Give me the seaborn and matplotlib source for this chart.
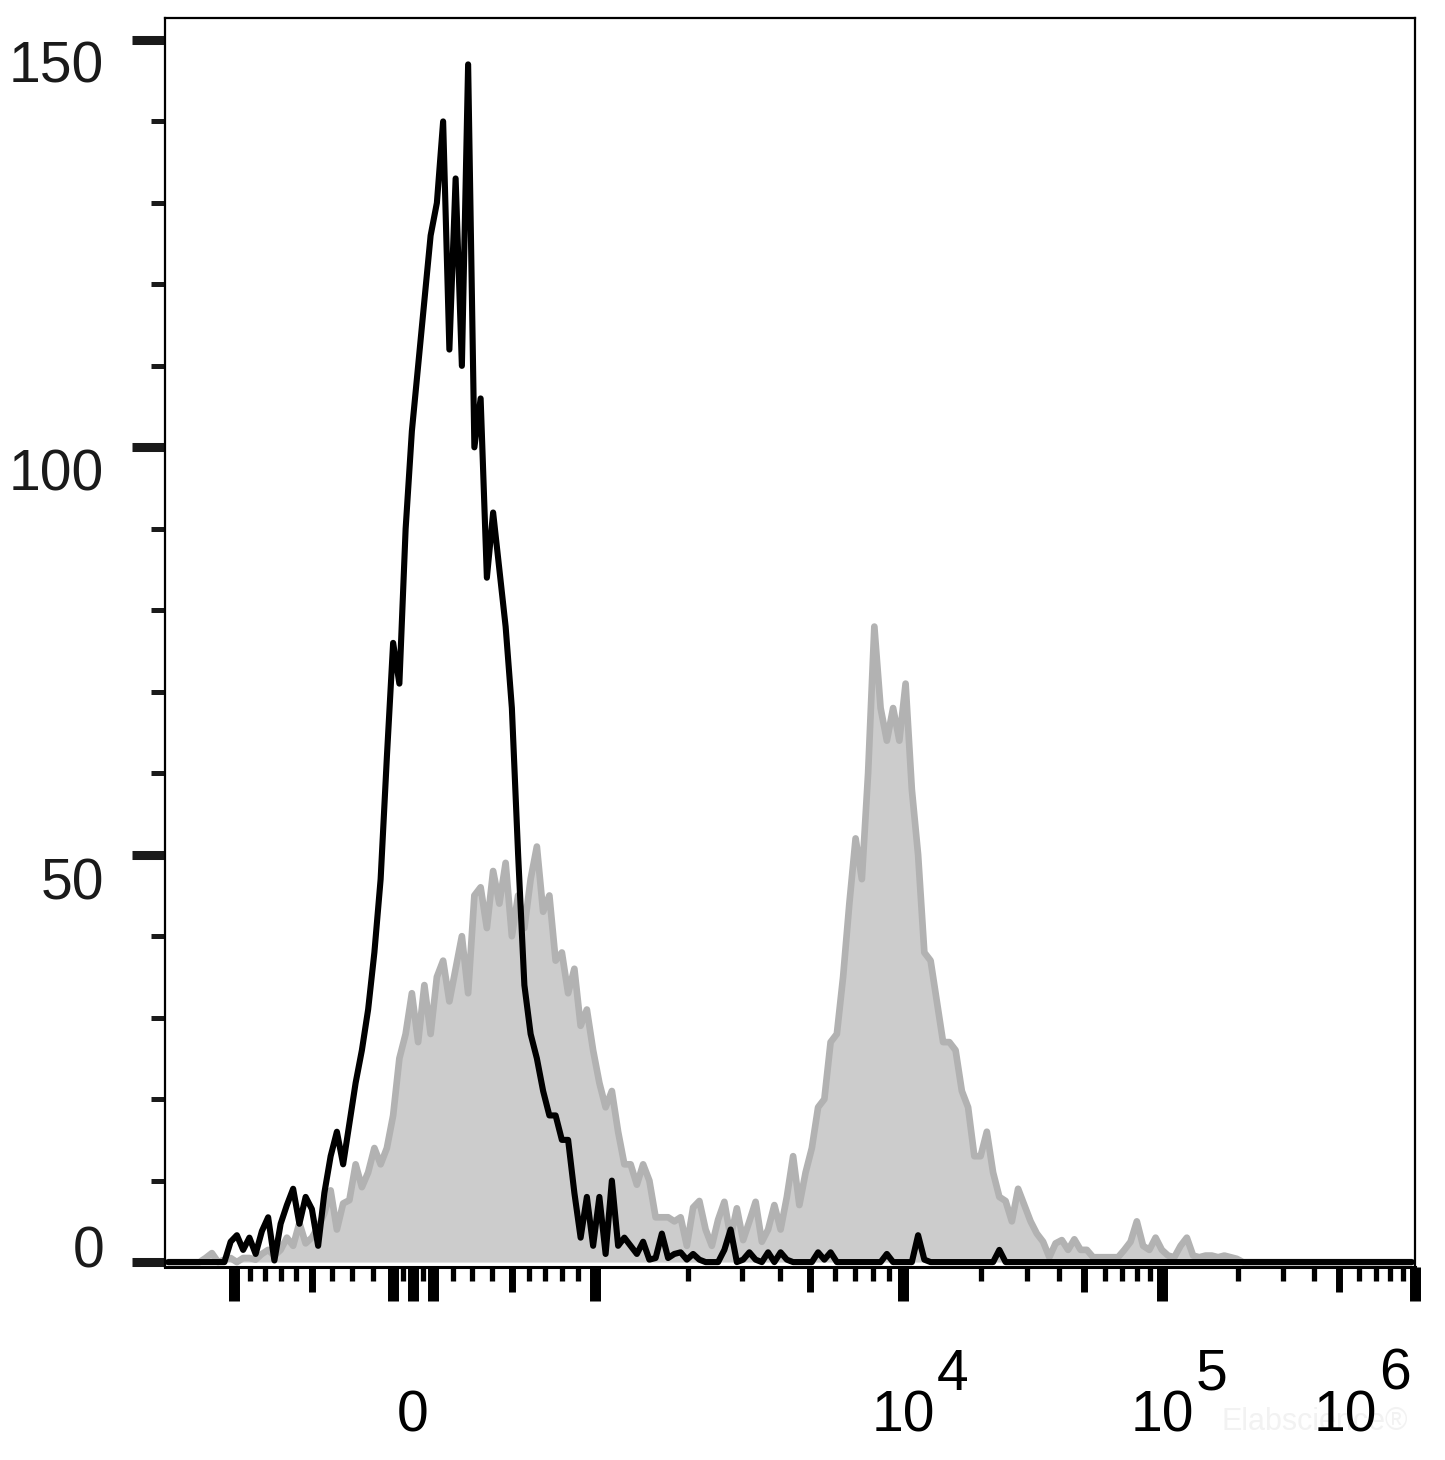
# Flow cytometry histogram overlay (biexponential x axis)

import numpy as np
import pandas as pd
import matplotlib
matplotlib.use("Agg")
import matplotlib.pyplot as plt
import matplotlib.transforms as mtransforms
from matplotlib.ticker import FixedLocator, NullLocator
import seaborn as sns

# Histogram counts: 200 bins spread evenly over the display channel range (0-1000)
gray_counts = [
    0, 0, 0, 0, 0, 0, 0.5, 1.1, 0, 0.3,
    0.5, 0, 0.5, 0.5, 0.3, 1.0, 1.5, 0.8, 1.5, 3.0,
    2.0, 4.8, 2.3, 3.0, 4.3, 6.0, 8.8, 4.0, 7.2, 7.6,
    12, 9.2, 11, 14, 12, 14, 18, 25, 28, 33,
    27, 34, 28, 35, 37, 32, 36, 40, 33, 45,
    46, 41, 48, 44, 49, 40, 45, 41, 47, 51,
    43, 45, 37, 38, 33, 36, 29, 31, 26, 22,
    19, 21, 16, 12, 12, 9.5, 12, 10, 5.5, 5.5,
    5.5, 5, 5.5, 2, 6.7, 7.5, 4, 2, 5.2, 7.4,
    3, 6.6, 2.7, 5, 7.4, 2.5, 4, 7, 4, 8,
    13, 7, 11, 14, 19, 20, 27, 28, 35, 44,
    52, 47, 60, 78, 68, 64, 68, 64, 71, 58,
    50, 38, 37, 32, 27, 27, 26, 21, 19, 13,
    13, 16, 11, 8, 7.5, 5, 9, 7, 5, 3.5,
    2.5, 0.6, 2.3, 2.7, 1.5, 2.8, 1.5, 1.5, 0.6, 0.6,
    0.6, 0.6, 0.6, 1.5, 2.5, 5, 2, 1.5, 3, 1.5,
    0.8, 0.6, 2, 3, 0.8, 0.6, 0.8, 0.8, 0.6, 0.8,
    0.6, 0.4, 0, 0, 0, 0, 0, 0, 0, 0,
    0, 0, 0, 0, 0, 0, 0, 0, 0, 0,
    0, 0, 0, 0, 0, 0, 0, 0, 0, 0,
]
black_counts = [
    0, 0, 0, 0, 0, 0, 0, 0, 0, 0,
    2.5, 3.3, 1.5, 3.0, 1.0, 3.8, 5.5, 0.2, 4.7, 7.0,
    9.0, 4.7, 8.0, 6.5, 2.0, 8.5, 13, 16, 12, 17,
    22, 26, 31, 38, 47, 62, 76, 71, 90, 102,
    110, 118, 126, 130, 140, 112, 133, 110, 147, 100,
    106, 84, 92, 85, 78, 68, 50, 34, 28, 25,
    21, 18, 18, 15, 15, 8.5, 3, 8, 2, 8,
    1, 10, 2, 3, 2, 1, 2.5, 0.3, 0.5, 3.5,
    0.5, 1, 1.2, 0.3, 1, 0.3, 0, 0, 0, 1.5,
    4, 0, 0.3, 1.2, 0.3, 0, 1.2, 0, 1.2, 0.3,
    0, 0, 0, 0, 1.2, 0.3, 1.2, 0, 0, 0,
    0, 0, 0, 0, 0, 1.0, 0, 0, 0, 0,
    3.3, 0.3, 0, 0, 0, 0, 0, 0, 0, 0,
    0, 0, 0, 1.5, 0, 0, 0, 0, 0, 0,
    0, 0, 0, 0, 0, 0, 0, 0, 0, 0,
    0, 0, 0, 0, 0, 0, 0, 0, 0, 0,
    0, 0, 0, 0, 0, 0, 0, 0, 0, 0,
    0, 0, 0, 0, 0, 0, 0, 0, 0, 0,
    0, 0, 0, 0, 0, 0, 0, 0, 0, 0,
    0, 0, 0, 0, 0, 0, 0, 0, 0, 0,
]

# tick values
x_long_ticks = [-1000, -100, 0, 100, 1000, 1e4, 1e5, 1e6]
x_mid_ticks = [-500, 500, 5000, 5e4, 5e5]
x_short_ticks = [-900, -800, -700, -600, -400, -300, -200, -50, 50,
                 200, 300, 400, 600, 700, 800, 900,
                 2000, 3000, 4000, 6000, 7000, 8000, 9000,
                 2e4, 3e4, 4e4, 6e4, 7e4, 8e4, 9e4,
                 2e5, 3e5, 4e5, 6e5, 7e5, 8e5, 9e5]
x_label_vals = [0, 1e4, 1e5, 1e6]
x_label_base = ["0", "10", "10", "10"]
x_label_sup = ["", "4", "5", "6"]
y_major_ticks = [0, 50, 100, 150]
y_minor_ticks = [10, 20, 30, 40, 60, 70, 80, 90, 110, 120, 130, 140]
y_labels = ["0", "50", "100", "150"]

# biexponential-like display scale: linear up to 1000, log above
U_KNOTS = np.array([-4, -1, -0.5, 0, 0.5, 1, 2, 3, 4, 5])
CH_KNOTS = np.array([-684, 55.2, 117.6, 198.4, 277.6, 344, 590.4, 797.6, 1000, 1202])


def to_channel(x):
    x = np.asarray(x, dtype=float)
    ax_ = np.abs(x)
    u = np.where(ax_ <= 1000, x / 1000,
                 np.sign(x) * (1 + np.log10(np.maximum(ax_, 1000) / 1000)))
    return np.interp(u, U_KNOTS, CH_KNOTS)


def from_channel(c):
    u = np.interp(np.asarray(c, dtype=float), CH_KNOTS, U_KNOTS)
    au = np.abs(u)
    return np.where(au <= 1, u * 1000, np.sign(u) * 1000 * 10 ** (np.maximum(au, 1) - 1))


n_bins = len(gray_counts)
bin_values = from_channel((np.arange(n_bins) + 0.5) * 1000 / n_bins)
df = pd.DataFrame({"value": bin_values, "gray": gray_counts, "black": black_counts})

sns.set_style("white")
plt.rcParams['font.family'] = ['Liberation Sans', 'DejaVu Sans']

fig = plt.figure(figsize=(14.45, 14.60), dpi=100)
ax = fig.add_axes([0.1142, 0.1322, 0.865, 0.8555])
ax.set_xscale('function', functions=(to_channel, from_channel))

ax.fill_between(df['value'], df['gray'], 0, color='#cccccc', lw=0, zorder=1)
sns.lineplot(data=df, x='value', y='gray', color='#b2b2b2', lw=4.8, ax=ax, zorder=2)
sns.lineplot(data=df, x='value', y='black', color='black', lw=4.4, ax=ax, zorder=3)

ax.set_xlim(float(from_channel(0)), float(from_channel(1000)))
ax.set_ylim(-0.6, 152.7)
ax.set_xlabel('')
ax.set_ylabel('')

for side in ['left', 'top', 'right']:
    ax.spines[side].set_linewidth(1.6)
    ax.spines[side].set_color('black')
ax.spines['bottom'].set_linewidth(2.2)
ax.spines['bottom'].set_color('black')

ax.xaxis.set_major_locator(FixedLocator(x_long_ticks))
ax.xaxis.set_minor_locator(FixedLocator(x_short_ticks))
ax.yaxis.set_major_locator(FixedLocator(y_major_ticks))
ax.yaxis.set_minor_locator(FixedLocator(y_minor_ticks))
ax.tick_params(axis='x', which='major', direction='out', length=24.5, width=7.9,
               color='black', bottom=True, labelbottom=False)
ax.tick_params(axis='x', which='minor', direction='out', length=10, width=3.8,
               color='black', bottom=True)
ax.tick_params(axis='y', which='major', direction='out', length=24, width=6.5,
               color='#1a1a1a', left=True, labelleft=False)
ax.tick_params(axis='y', which='minor', direction='out', length=10, width=3.6,
               color='#1a1a1a', left=True)

# medium-length ticks on a twin axis with the same scale
ax2 = ax.twiny()
ax2.set_xscale('function', functions=(to_channel, from_channel))
ax2.set_xlim(ax.get_xlim())
ax2.xaxis.set_major_locator(FixedLocator(x_mid_ticks))
ax2.xaxis.set_minor_locator(NullLocator())
ax2.tick_params(axis='x', which='major', direction='out', length=18, width=5.0,
                color='black', top=False, bottom=True, labeltop=False, labelbottom=False)
for s in ax2.spines.values():
    s.set_visible(False)

# faint watermark, behind the axes and labels
fig.text(1315 / 1445, 1 - 1430 / 1460, "Elabscience\u00ae", fontsize=22,
         color='#f2f2f2', ha='center', va='baseline', zorder=-1)

# x labels (base "10" plus raised exponent)
xtr = mtransforms.blended_transform_factory(ax.transData, ax.transAxes)
x_dx = [0, 0, 0, -70]
for v, base, sup, dx in zip(x_label_vals, x_label_base, x_label_sup, x_dx):
    ax.annotate(base, xy=(v, 0), xycoords=xtr, xytext=(dx, -165),
                textcoords='offset pixels', ha='center', va='baseline',
                fontsize=41, color='black')
    if sup:
        ax.annotate(sup, xy=(v, 0), xycoords=xtr, xytext=(dx + 50, -123),
                    textcoords='offset pixels', ha='center', va='baseline',
                    fontsize=41, color='black')

# y labels
ytr = mtransforms.blended_transform_factory(ax.transAxes, ax.transData)
y_dy = [-5, -45, -43, -43]
for v, lab, dy in zip(y_major_ticks, y_labels, y_dy):
    ax.annotate(lab, xy=(0, v), xycoords=ytr, xytext=(-61, dy),
                textcoords='offset pixels', ha='right', va='baseline',
                fontsize=41, color='#1a1a1a')

fig.savefig("out.png", dpi=100)
